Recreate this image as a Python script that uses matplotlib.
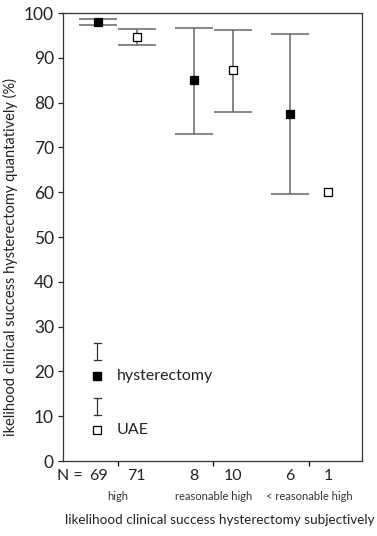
import numpy as np
import matplotlib
matplotlib.use('Agg')
import matplotlib.pyplot as plt

plt.rcParams['font.family'] = ['Lato', 'DejaVu Sans']

groups = ['high', 'reasonable high', '< reasonable high']
n_hyst = [69, 8, 6]
n_uae = [71, 10, 1]

hyst_mean = [98.0, 85.0, 77.4]
hyst_low = [97.4, 73.1, 59.7]
hyst_high = [98.6, 96.7, 95.3]

uae_mean = [94.6, 87.2, 60.0]
uae_low = [92.8, 78.0, np.nan]   # only one UAE patient in the last group
uae_high = [96.4, 96.3, np.nan]

yticks = list(range(0, 101, 10))

pos = np.arange(1, len(groups) + 1)
off = 0.2
bar_col = '#666666'

fig = plt.figure(figsize=(3.77, 5.36), dpi=100)
ax = fig.add_axes([0.1671, 0.1399, 0.7931, 0.8358])


def draw_series(x, mean, low, high, face):
    mean = np.array(mean)
    low = np.array(low)
    high = np.array(high)
    ok = ~np.isnan(low)
    ax.errorbar(x[ok], mean[ok], yerr=[mean[ok] - low[ok], high[ok] - mean[ok]],
                fmt='none', ecolor=bar_col, elinewidth=1.1, capsize=13.7,
                capthick=1.1, zorder=2)
    ax.plot(x, mean, 's', ms=5.5, mfc=face, mec='black', mew=0.9, ls='none',
            zorder=3)


draw_series(pos - off, hyst_mean, hyst_low, hyst_high, 'black')
draw_series(pos + off, uae_mean, uae_low, uae_high, 'white')

ax.set_xlim(0.43, 3.55)
ax.set_ylim(0, 100)
ax.set_yticks(yticks)
ax.set_xticks(pos)
ax.set_xticklabels([''] * len(pos))
ax.tick_params(axis='y', direction='out', length=3.5, width=0.9,
               labelsize=12.5, colors='#222222', pad=3)
ax.tick_params(axis='x', direction='out', length=3.5, width=0.9)
for s in ax.spines.values():
    s.set_color('#333333')
    s.set_linewidth(0.9)

# N counts and group names under the axis
xt = ax.get_xaxis_transform()
ax.text(0.64, -0.034, 'N =', transform=xt, ha='right', va='center',
        fontsize=11.5, color='#222222')
for i in range(len(groups)):
    ax.text(pos[i] - off, -0.034, str(n_hyst[i]), transform=xt, ha='center',
            va='center', fontsize=11.5, color='#222222')
    ax.text(pos[i] + off, -0.034, str(n_uae[i]), transform=xt, ha='center',
            va='center', fontsize=11.5, color='#222222')
    ax.text(pos[i], -0.079, groups[i], transform=xt, ha='center',
            va='center', fontsize=8, color='#333333')

fig.text(0.584, 0.030, 'likelihood clinical success hysterectomy subjectively',
         ha='center', va='center', fontsize=9.7, color='#222222')
fig.text(0.029, 0.52, 'ikelihood clinical success hysterectomy quantatively (%)',
         ha='center', va='center', rotation=90, fontsize=10.5,
         color='#222222')

# hand-drawn key in the lower left corner
def key_bar(x, y0, y1):
    w = 0.0117
    ax.plot([x, x], [y0, y1], color='#333333', lw=0.9, transform=ax.transAxes)
    for y in (y0, y1):
        ax.plot([x - w, x + w], [y, y], color='#333333', lw=0.9,
                transform=ax.transAxes)


key_bar(0.114, 0.225, 0.264)
ax.plot(0.114, 0.190, 's', ms=5.5, mfc='black', mec='black',
        transform=ax.transAxes)
ax.text(0.18, 0.190, 'hysterectomy', transform=ax.transAxes, va='center',
        fontsize=11.5, color='#222222')
key_bar(0.114, 0.103, 0.141)
ax.plot(0.114, 0.069, 's', ms=5.5, mfc='white', mec='black', mew=0.9,
        transform=ax.transAxes)
ax.text(0.18, 0.069, 'UAE', transform=ax.transAxes, va='center',
        fontsize=11.5, color='#222222')

fig.savefig('out.png', dpi=100)
